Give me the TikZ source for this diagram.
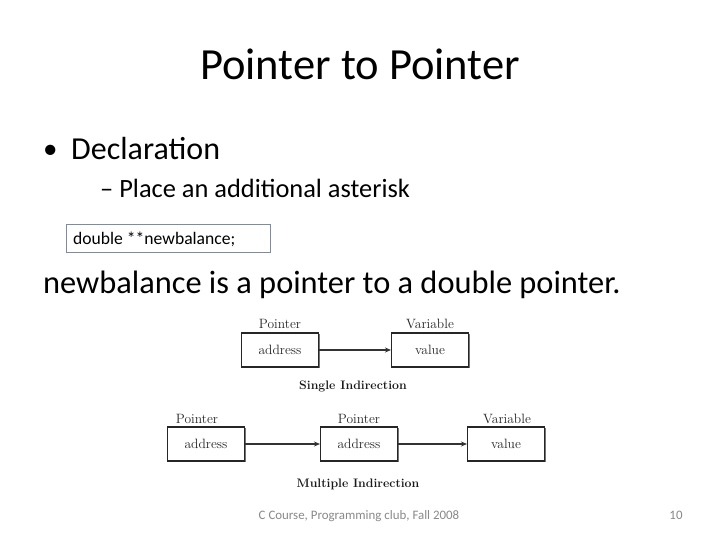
\documentclass[tikz,border=0pt]{standalone}
\usepackage{fontspec}
\setmainfont{Carlito}
\newfontfamily\diagfont{Latin Modern Roman}
\usetikzlibrary{arrows.meta}
\definecolor{footgray}{RGB}{137,137,137}
\definecolor{codeborder}{RGB}{125,140,160}
\tikzset{
  slidetext/.style={inner sep=0pt, anchor=base west, text=black},
  membox/.style={draw=black!85, line width=1.1pt, fill=white, minimum width=77pt, minimum height=34pt, inner sep=0pt,
    font=\diagfont\fontsize{13.5}{16}\selectfont, text=black!85},
  memshadow/.style={fill=black!55, minimum width=77pt, minimum height=34pt, inner sep=0pt},
  memlabel/.style={inner sep=0pt, font=\diagfont\fontsize{13.5}{16}\selectfont, text=black!85},
  caption/.style={inner sep=0pt, font=\diagfont\bfseries\fontsize{12.3}{15}\selectfont, text=black!90},
  link/.style={draw=black!80, line width=1.3pt, -{Stealth[length=6pt,width=5pt]}},
}
\begin{document}
\begin{tikzpicture}[x=1pt,y=-1pt]
\useasboundingbox (0,0) rectangle (720,540);
\fill[white] (0,0) rectangle (720,540);
% title
\node[inner sep=0pt, anchor=base, font=\fontsize{44.5}{52}\selectfont] (title) at (360,80) {Pointer to Pointer};
% bullets
\node[slidetext, font=\fontsize{29}{34}\selectfont] (b1) at (43,159) {\textbullet};
\node[slidetext, font=\fontsize{32}{38}\selectfont] (decl) at (71,160) {Declaration};
\node[slidetext, font=\fontsize{26.4}{31}\selectfont] (sub) at (100,197) {– Place an additional asterisk};
\node[draw=codeborder, line width=0.8pt, anchor=west, inner sep=0pt, minimum height=28pt, minimum width=204pt] (code) at (66,238) {};
\node[slidetext, font=\fontsize{17.6}{21}\selectfont] (codetext) at (73,244) {double **newbalance;};
\node[slidetext, font=\fontsize{32.4}{38}\selectfont] (line) at (43,293) {newbalance is a pointer to a double pointer.};
% single indirection
\node[memshadow] at (281.2,351.2) {};
\node[membox] (p1) at (280,350) {address};
\node[memshadow] at (431.2,351.2) {};
\node[membox] (v1) at (430,350) {value};
\node[memlabel, anchor=base] (p1l) at (280,328) {Pointer};
\node[memlabel, anchor=base] (v1l) at (430,328) {Variable};
\draw[link] (p1) -- (v1);
\node[caption, anchor=base] (c1) at (353,389) {Single\hspace{0.4em}Indirection};
% multiple indirection
\node[memshadow] at (207.2,445.2) {};
\node[membox] (p2) at (206,444) {address};
\node[memshadow] at (360.2,445.2) {};
\node[membox] (p3) at (359,444) {address};
\node[memshadow] at (507.2,445.2) {};
\node[membox] (v2) at (506,444) {value};
\node[memlabel, anchor=base] (p2l) at (197,423) {Pointer};
\node[memlabel, anchor=base] (p3l) at (359,423) {Pointer};
\node[memlabel, anchor=base] (v2l) at (507,423) {Variable};
\draw[link] (p2) -- (p3);
\draw[link] (p3) -- (v2);
\node[caption, anchor=base] (c2) at (358,487) {Multiple Indirection};
% footer
\node[slidetext, anchor=base, text=footgray, font=\fontsize{12.9}{15}\selectfont] (foot) at (359,519) {C Course, Programming club, Fall 2008};
\node[slidetext, anchor=base, text=footgray, font=\fontsize{12.9}{15}\selectfont] (num) at (676,519) {10};
\end{tikzpicture}
\end{document}
